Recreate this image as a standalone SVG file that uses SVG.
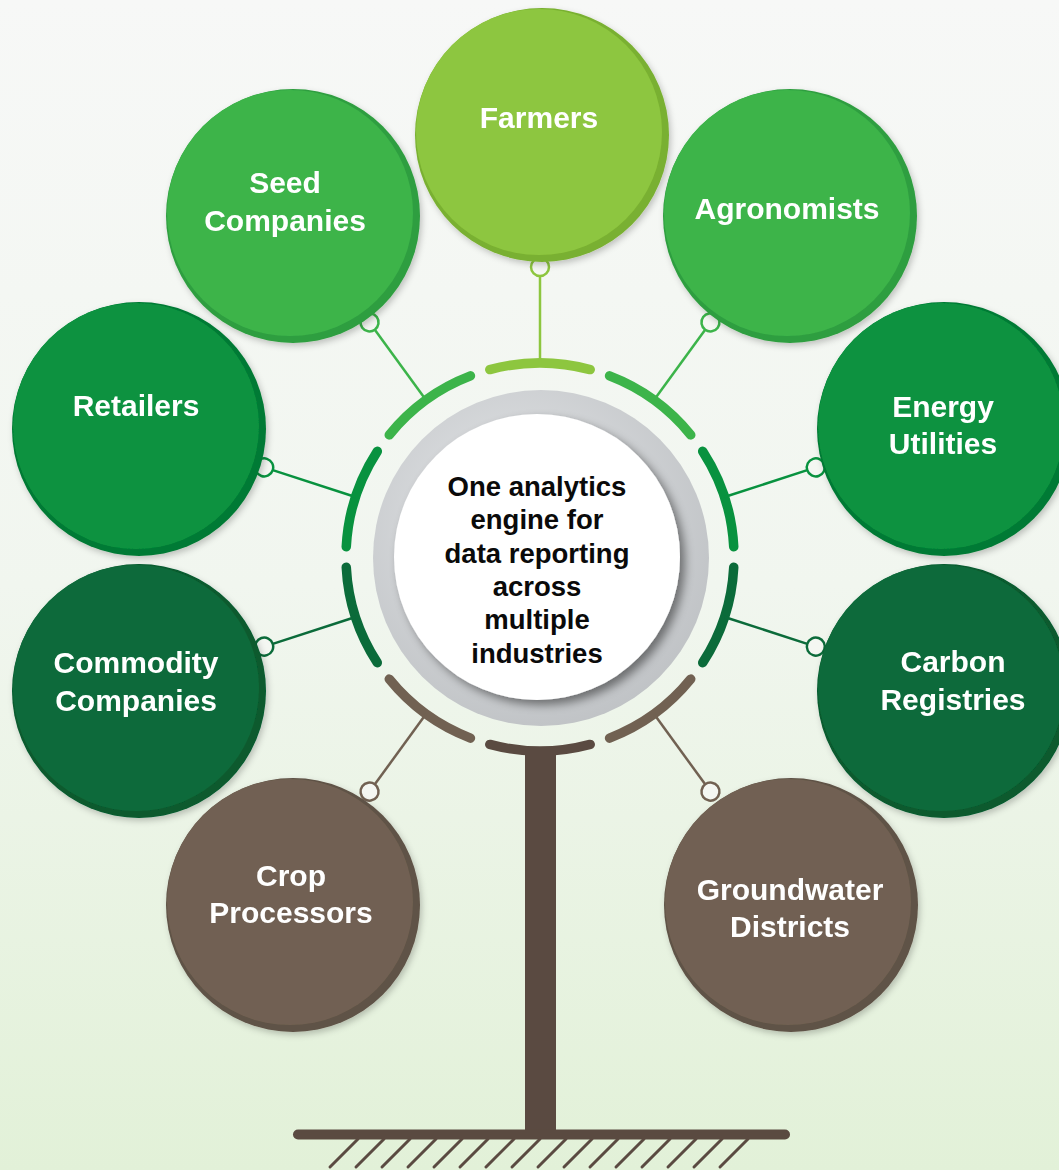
<svg xmlns="http://www.w3.org/2000/svg" width="1059" height="1170" viewBox="0 0 1059 1170">
<defs>
<linearGradient id="bg" x1="0" y1="0" x2="0" y2="1">
<stop offset="0" stop-color="#f7f8f7"/>
<stop offset="0.5" stop-color="#f1f6ef"/>
<stop offset="1" stop-color="#e2f1d8"/>
</linearGradient>
<radialGradient id="ring" cx="0.42" cy="0.38" r="0.7">
<stop offset="0" stop-color="#e4e6e8"/>
<stop offset="1" stop-color="#bdc0c3"/>
</radialGradient>
<filter id="sh" x="-20%" y="-20%" width="140%" height="140%">
<feDropShadow dx="2" dy="3" stdDeviation="3" flood-color="#000" flood-opacity="0.22"/>
</filter>
<filter id="shw" x="-20%" y="-20%" width="140%" height="140%">
<feDropShadow dx="5" dy="5" stdDeviation="5" flood-color="#000" flood-opacity="0.45"/>
</filter>
</defs>
<style>
.lbl{font-family:"Liberation Sans",Arial,sans-serif;font-weight:bold;font-size:30px;fill:#ffffff;text-anchor:middle}
.ctr{font-family:"Liberation Sans",Arial,sans-serif;font-weight:bold;font-size:27.5px;fill:#0a0a0a;text-anchor:middle}
.arc{fill:none;stroke-width:9.5;stroke-linecap:round}
.ln{stroke-width:2.5;fill:none}
.knob{fill:#f4f7f2;stroke-width:2.5}
.hatch{stroke:#5a4a41;stroke-width:3;stroke-linecap:round}
</style>
<rect x="0" y="0" width="1059" height="1170" fill="url(#bg)"/>

<g id="connectors">
<g transform="rotate(0 540 557)" stroke="#8dc63f"><path class="arc" d="M489.8,369.6 A194,194 0 0 1 590.2,369.6"/><line class="ln" x1="540" y1="363" x2="540" y2="276"/><circle class="knob" cx="540" cy="267" r="9"/></g>
<g transform="rotate(36 540 557)" stroke="#3cb44a"><path class="arc" d="M489.8,369.6 A194,194 0 0 1 590.2,369.6"/><line class="ln" x1="540" y1="363" x2="540" y2="276"/><circle class="knob" cx="540" cy="267" r="9"/></g>
<g transform="rotate(72 540 557)" stroke="#08923f"><path class="arc" d="M489.8,369.6 A194,194 0 0 1 590.2,369.6"/><line class="ln" x1="540" y1="363" x2="540" y2="276"/><circle class="knob" cx="540" cy="267" r="9"/></g>
<g transform="rotate(108 540 557)" stroke="#0b6b3a"><path class="arc" d="M489.8,369.6 A194,194 0 0 1 590.2,369.6"/><line class="ln" x1="540" y1="363" x2="540" y2="276"/><circle class="knob" cx="540" cy="267" r="9"/></g>
<g transform="rotate(144 540 557)" stroke="#716152"><path class="arc" d="M489.8,369.6 A194,194 0 0 1 590.2,369.6"/><line class="ln" x1="540" y1="363" x2="540" y2="276"/><circle class="knob" cx="540" cy="267" r="9"/></g>
<g transform="rotate(180 540 557)" stroke="#5a4a41"><path class="arc" d="M489.8,369.6 A194,194 0 0 1 590.2,369.6"/></g>
<g transform="rotate(216 540 557)" stroke="#716152"><path class="arc" d="M489.8,369.6 A194,194 0 0 1 590.2,369.6"/><line class="ln" x1="540" y1="363" x2="540" y2="276"/><circle class="knob" cx="540" cy="267" r="9"/></g>
<g transform="rotate(252 540 557)" stroke="#0b6b3a"><path class="arc" d="M489.8,369.6 A194,194 0 0 1 590.2,369.6"/><line class="ln" x1="540" y1="363" x2="540" y2="276"/><circle class="knob" cx="540" cy="267" r="9"/></g>
<g transform="rotate(288 540 557)" stroke="#08923f"><path class="arc" d="M489.8,369.6 A194,194 0 0 1 590.2,369.6"/><line class="ln" x1="540" y1="363" x2="540" y2="276"/><circle class="knob" cx="540" cy="267" r="9"/></g>
<g transform="rotate(324 540 557)" stroke="#3cb44a"><path class="arc" d="M489.8,369.6 A194,194 0 0 1 590.2,369.6"/><line class="ln" x1="540" y1="363" x2="540" y2="276"/><circle class="knob" cx="540" cy="267" r="9"/></g>
</g>

<g id="trunk">
<rect x="525" y="755" width="31" height="380" fill="#5a4a41"/>
<line x1="298" y1="1134.5" x2="785" y2="1134.5" stroke="#5a4a41" stroke-width="10" stroke-linecap="round"/>
<g>
<line class="hatch" x1="330" y1="1167" x2="358" y2="1139"/>
<line class="hatch" x1="356" y1="1167" x2="384" y2="1139"/>
<line class="hatch" x1="382" y1="1167" x2="410" y2="1139"/>
<line class="hatch" x1="408" y1="1167" x2="436" y2="1139"/>
<line class="hatch" x1="434" y1="1167" x2="462" y2="1139"/>
<line class="hatch" x1="460" y1="1167" x2="488" y2="1139"/>
<line class="hatch" x1="486" y1="1167" x2="514" y2="1139"/>
<line class="hatch" x1="512" y1="1167" x2="540" y2="1139"/>
<line class="hatch" x1="538" y1="1167" x2="566" y2="1139"/>
<line class="hatch" x1="564" y1="1167" x2="592" y2="1139"/>
<line class="hatch" x1="590" y1="1167" x2="618" y2="1139"/>
<line class="hatch" x1="616" y1="1167" x2="644" y2="1139"/>
<line class="hatch" x1="642" y1="1167" x2="670" y2="1139"/>
<line class="hatch" x1="668" y1="1167" x2="696" y2="1139"/>
<line class="hatch" x1="694" y1="1167" x2="722" y2="1139"/>
<line class="hatch" x1="720" y1="1167" x2="748" y2="1139"/>
</g>
</g>

<g id="center">
<circle cx="541" cy="558" r="168" fill="url(#ring)"/>
<circle cx="537" cy="557" r="143" fill="#ffffff" filter="url(#shw)"/>
<text class="ctr" x="537" y="496">One analytics</text>
<text class="ctr" x="537" y="529">engine for</text>
<text class="ctr" x="537" y="563">data reporting</text>
<text class="ctr" x="537" y="596">across</text>
<text class="ctr" x="537" y="629">multiple</text>
<text class="ctr" x="537" y="663">industries</text>
</g>

<g id="farmers" filter="url(#sh)">
<circle cx="542" cy="135" r="127" fill="#79b030"/>
<circle cx="539" cy="132" r="123" fill="#8dc63f"/>
<text class="lbl" x="539" y="128">Farmers</text>
</g>
<g id="agronomists" filter="url(#sh)">
<circle cx="790" cy="216" r="127" fill="#2f9e3f"/>
<circle cx="787" cy="213" r="123" fill="#3cb44a"/>
<text class="lbl" x="787" y="219">Agronomists</text>
</g>
<g id="energy-utilities" filter="url(#sh)">
<circle cx="944" cy="429" r="127" fill="#067a34"/>
<circle cx="941" cy="426" r="123" fill="#08923f"/>
<text class="lbl" x="943" y="417">Energy</text>
<text class="lbl" x="943" y="454">Utilities</text>
</g>
<g id="carbon-registries" filter="url(#sh)">
<circle cx="944" cy="691" r="127" fill="#075a2f"/>
<circle cx="941" cy="688" r="123" fill="#0b6b3a"/>
<text class="lbl" x="953" y="672">Carbon</text>
<text class="lbl" x="953" y="710">Registries</text>
</g>
<g id="groundwater-districts" filter="url(#sh)">
<circle cx="791" cy="905" r="127" fill="#5f5246"/>
<circle cx="788" cy="902" r="123" fill="#716152"/>
<text class="lbl" x="790" y="900">Groundwater</text>
<text class="lbl" x="790" y="937">Districts</text>
</g>
<g id="crop-processors" filter="url(#sh)">
<circle cx="293" cy="905" r="127" fill="#5f5246"/>
<circle cx="290" cy="902" r="123" fill="#716152"/>
<text class="lbl" x="291" y="886">Crop</text>
<text class="lbl" x="291" y="923">Processors</text>
</g>
<g id="commodity-companies" filter="url(#sh)">
<circle cx="139" cy="691" r="127" fill="#075a2f"/>
<circle cx="136" cy="688" r="123" fill="#0b6b3a"/>
<text class="lbl" x="136" y="673">Commodity</text>
<text class="lbl" x="136" y="711">Companies</text>
</g>
<g id="retailers" filter="url(#sh)">
<circle cx="139" cy="429" r="127" fill="#067a34"/>
<circle cx="136" cy="426" r="123" fill="#08923f"/>
<text class="lbl" x="136" y="416">Retailers</text>
</g>
<g id="seed-companies" filter="url(#sh)">
<circle cx="293" cy="216" r="127" fill="#2f9e3f"/>
<circle cx="290" cy="213" r="123" fill="#3cb44a"/>
<text class="lbl" x="285" y="193">Seed</text>
<text class="lbl" x="285" y="231">Companies</text>
</g>
</svg>
